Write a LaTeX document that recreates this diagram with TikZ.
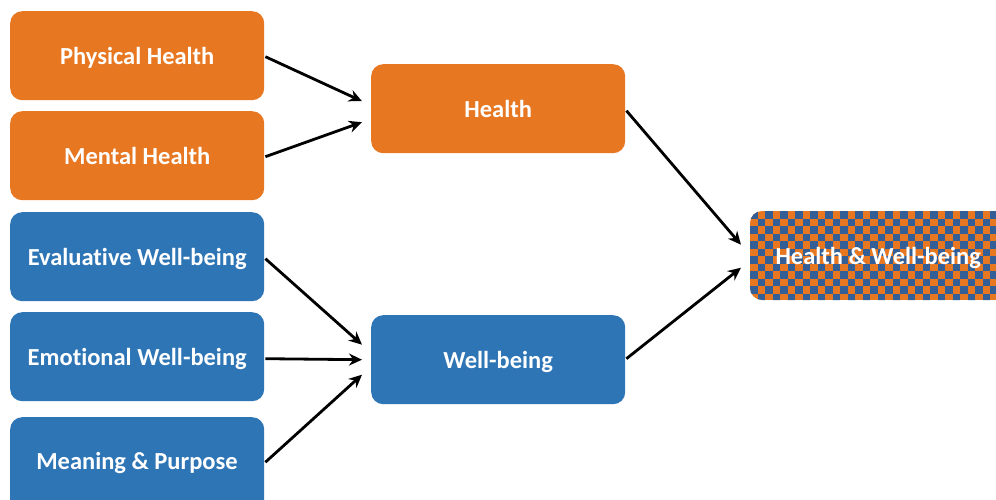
\documentclass[tikz,border=0pt]{standalone}
\usepackage{fontspec}
\setmainfont[Ligatures=NoCommon]{Carlito}
\usetikzlibrary{arrows.meta,calc}
\definecolor{orng}{HTML}{E87722}
\definecolor{blu}{HTML}{2E75B6}
\definecolor{chkblue}{HTML}{335F96}
\tikzset{
  txt/.style={text=white, font=\fontsize{24.5}{28}\selectfont\bfseries, text height=17pt, text depth=0pt},
  box/.style={txt, rounded corners=12pt, minimum width=254pt, minimum height=89pt, inner sep=0pt,
    anchor=north west},
  obox/.style={box, fill=orng},
  bbox/.style={box, fill=blu},
  arr/.style={-{Stealth[length=13pt,width=12pt]}, line width=2.8pt, black}
}
\begin{document}
\begin{tikzpicture}[x=1pt,y=-1pt]
\useasboundingbox (0,0) rectangle (996,500);
\node[obox] (ph) at (10,11) {Physical Health};
\node[obox] (mh) at (10,111) {Mental Health};
\node[bbox] (ev) at (10,212) {Evaluative Well-being};
\node[bbox] (em) at (10,312) {Emotional Well-being};
\node[bbox, minimum height=95pt] (mp) at (10,417) {};
\node[txt, inner sep=0pt] (mpt) at (137,461) {Meaning \& Purpose};
\node[obox] (h) at (371,64) {Health};
\node[bbox] (wb) at (371,315) {Well-being};
\begin{scope}
\clip[rounded corners=12pt] (750,211) rectangle (1010,300);
\fill[orng] (750,211) rectangle (1010,300);
\foreach \i in {0,...,34}{
  \foreach \j in {0,...,11}{
    \pgfmathtruncatemacro\kk{mod(\i+\j,2)}
    \ifnum\kk=0
      \fill[chkblue] (750+\i*7.5,211+\j*7.5) rectangle ++(7.5,7.5);
    \fi
  }
}
\end{scope}
\node[box, minimum width=256pt] (hw) at (750,211) {Health \& Well-being};
\coordinate (h1) at ($(h.west)+(-9,-7.5)$);
\coordinate (h2) at ($(h.west)+(-9,13.5)$);
\coordinate (w1) at ($(wb.west)+(-9,-15)$);
\coordinate (w2) at ($(wb.west)+(-9,0)$);
\coordinate (w3) at ($(wb.west)+(-9,15)$);
\coordinate (x1) at ($(hw.west)+(-9,-11)$);
\coordinate (x2) at ($(hw.west)+(-9,12)$);
\draw[arr] ($(ph.east)+(1,1)$) -- (h1);
\draw[arr] ($(mh.east)+(1,1)$) -- (h2);
\draw[arr] ($(ev.east)+(1,2)$) -- (w1);
\draw[arr] ($(em.east)+(1,2)$) -- (w2);
\draw[arr] ($(mp.east)+(1,-2.5)$) -- (w3);
\draw[arr] ($(h.east)+(1,2)$) -- (x1);
\draw[arr] ($(wb.east)+(1,-1)$) -- (x2);
\end{tikzpicture}
\end{document}
